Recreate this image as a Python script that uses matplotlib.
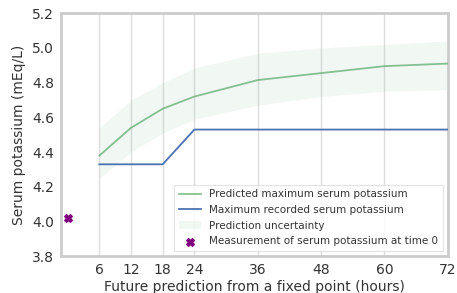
import matplotlib
matplotlib.use("Agg")
import matplotlib.pyplot as plt

hours = [6, 12, 18, 24, 36, 48, 60, 72]
predicted = [4.38, 4.54, 4.65, 4.72, 4.815, 4.855, 4.895, 4.91]
upper = [4.54, 4.70, 4.80, 4.885, 4.97, 5.00, 5.02, 5.04]
lower = [4.25, 4.40, 4.51, 4.59, 4.67, 4.72, 4.75, 4.76]
recorded = [4.33, 4.33, 4.33, 4.53, 4.53, 4.53, 4.53, 4.53]
t0 = [0]
k0 = [4.02]
yticks = [3.8, 4.0, 4.2, 4.4, 4.6, 4.8, 5.0, 5.2]

plt.rcParams['font.family'] = ['DejaVu Sans']
fig, ax = plt.subplots(figsize=(4.57, 2.93), dpi=100)
fig.subplots_adjust(left=0.133, right=0.98, top=0.955, bottom=0.125)

ax.plot(hours, predicted, color='#55a868', alpha=0.7, lw=1.3,
        label='Predicted maximum serum potassium', zorder=3)
ax.plot(hours, recorded, color='#4c72b0', lw=1.3,
        label='Maximum recorded serum potassium', zorder=3)
ax.fill_between(hours, lower, upper, color='#55a868', alpha=0.08, lw=0,
                label='Prediction uncertainty', zorder=2)
ax.scatter(t0, k0, marker='X', color='purple', s=30,
           label='Measurement of serum potassium at time 0', zorder=4)

ax.set_xlim(-1.3, 72)
ax.set_ylim(3.8, 5.2)
ax.set_xticks(hours)
ax.set_yticks(yticks)
ax.set_yticklabels([f"{v:.1f}" for v in yticks])
ax.grid(axis='x', color='#dddddd', lw=1.0, zorder=0)
ax.set_axisbelow(True)
for s in ax.spines.values():
    s.set_color('#cccccc')
    s.set_linewidth(2)
ax.tick_params(axis='both', length=0, labelsize=10, colors='#333333', pad=5)
ax.set_xlabel('Future prediction from a fixed point (hours)', fontsize=10, color='#333333', labelpad=2)
ax.set_ylabel('Serum potassium (mEq/L)', fontsize=10, color='#333333', labelpad=4)

leg = ax.legend(loc='lower right', fontsize=7.5, frameon=True, fancybox=False,
                borderaxespad=0.5, handlelength=2.1, labelspacing=0.55,
                borderpad=0.45)
leg.get_frame().set_edgecolor('#dddddd')
leg.get_frame().set_linewidth(0.8)
for t in leg.get_texts():
    t.set_color('#333333')

fig.savefig('out.png', dpi=100)
